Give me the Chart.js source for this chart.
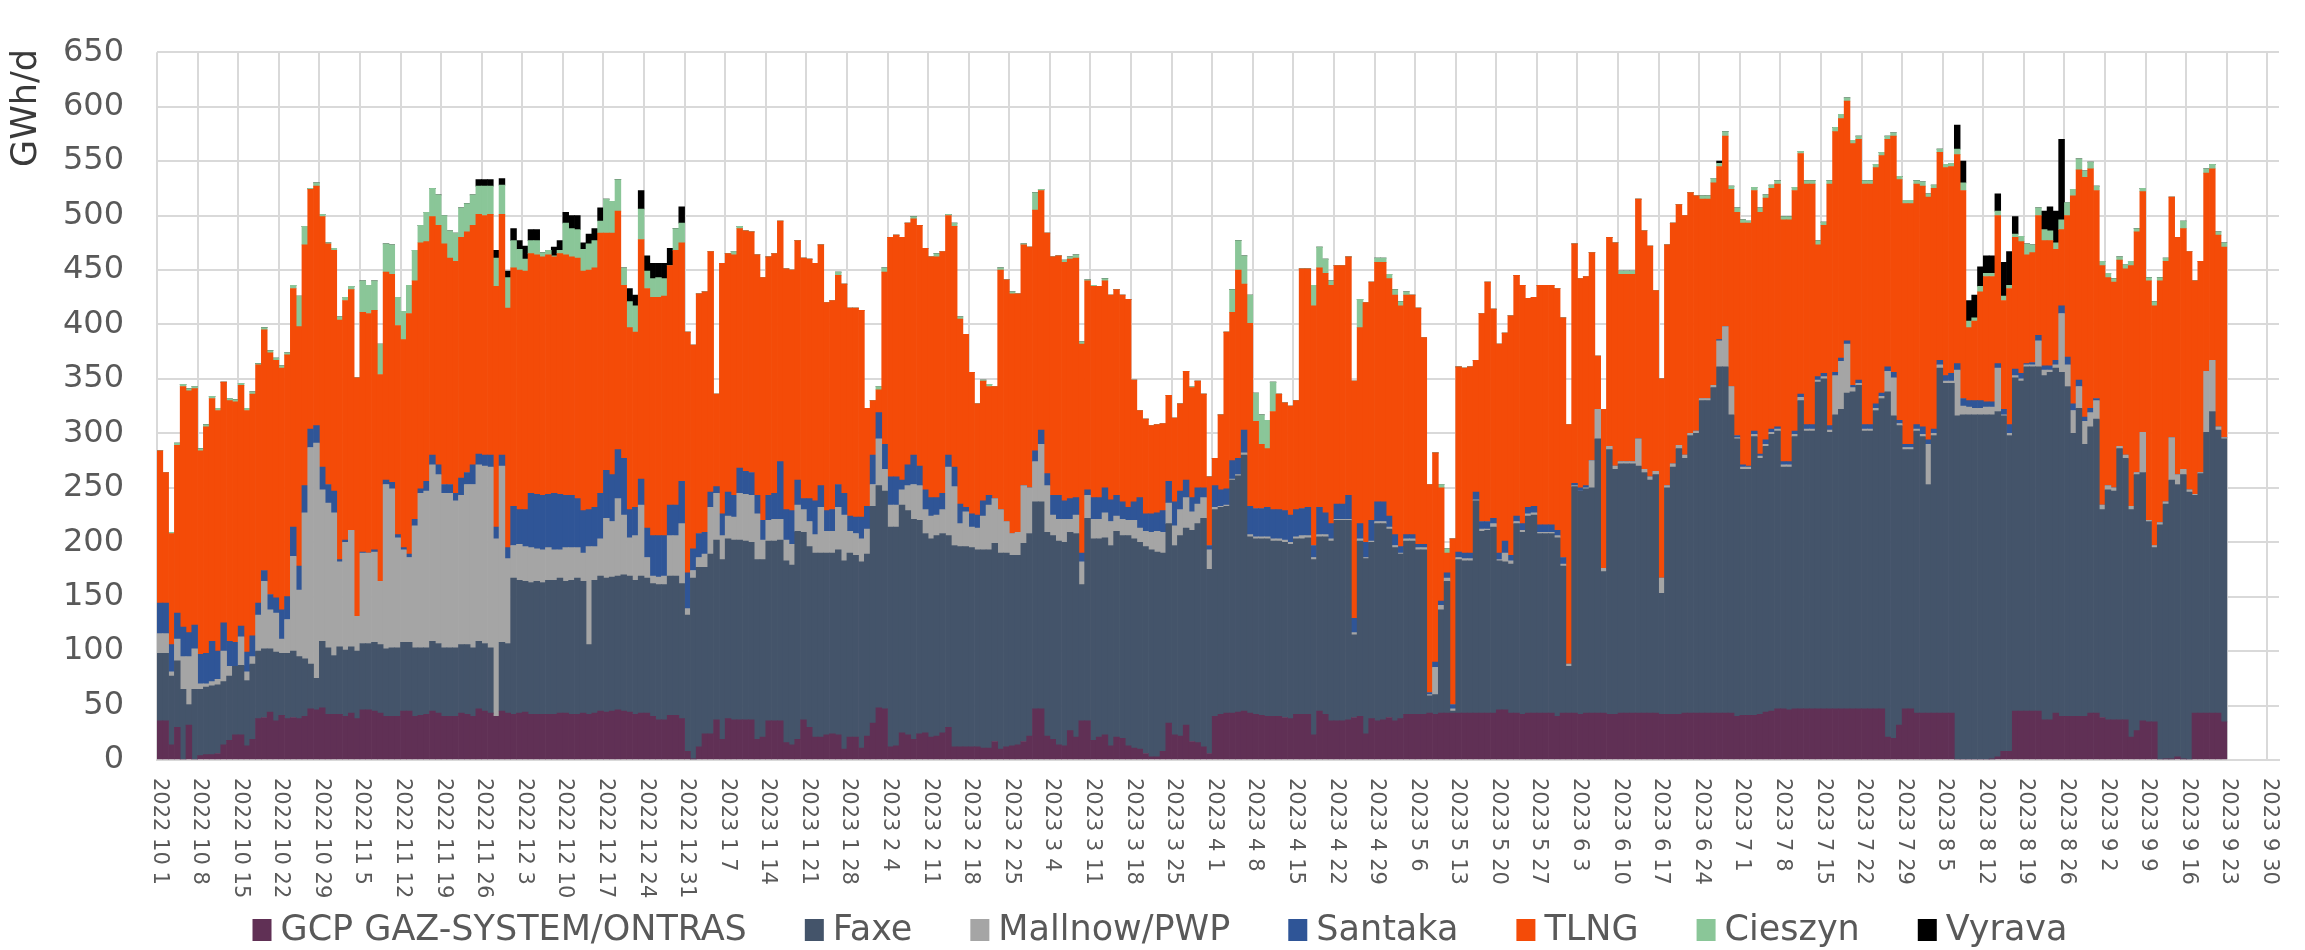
<!DOCTYPE html>
<html>
<head>
<meta charset="utf-8">
<script src="https://cdn.jsdelivr.net/npm/chart.js@4.4.1/dist/chart.umd.min.js"></script>
<style>
  html, body { margin: 0; padding: 0; background: #fff; }
</style>
</head>
<body>
<canvas id="chart" width="2305" height="950"></canvas>
<script>
// Axe des dates : un jour par barre, du 1er octobre 2022 au 1er octobre 2023
const startDate = Date.UTC(2022, 9, 1);
const dayCount = 366;
const tickEvery = 7;
const categories = [];
for (let i = 0; i < dayCount; i++) {
  const d = new Date(startDate + i * 86400000);
  categories.push(d.getUTCFullYear() + ' ' + (d.getUTCMonth() + 1) + ' ' + d.getUTCDate());
}

// Flux journaliers en GWh/d (2022-10-01 -> 2023-09-22)
const gcp = [36,36,14,30,0,32,0,4,5,5, 6,14,18,23,23,13,19,38,39,44,
  36,41,38,39,38,40,47,46,48,42, 42,42,40,43,38,46,46,45,43,40,
  40,40,45,45,40,41,42,45,43,40, 40,40,43,42,40,47,45,43,40,45,
  43,42,43,44,42,42,42,42,42,43, 43,42,42,43,42,43,45,44,45,46,
  45,44,42,43,43,40,37,37,41,41, 38,8,1,12,24,24,37,19,38,37,
  37,37,37,19,21,36,36,36,16,14, 19,37,30,21,21,23,24,23,10,21,
  21,11,22,34,48,47,12,13,25,23, 19,24,25,21,22,25,30,12,12,12,
  12,12,11,11,17,10,12,13,14,17, 22,47,47,22,19,14,13,27,21,36,
  36,18,21,23,13,21,20,13,11,10, 6,3,3,8,34,23,22,32,17,16,
  12,6,40,42,43,43,44,45,43,42, 41,40,40,40,39,38,42,42,42,23,
  45,42,36,36,36,37,39,40,24,38, 36,37,39,36,38,42,42,42,42,43,
  42,43,43,43,43,43,43,43,43,43, 43,46,46,43,43,42,43,43,43,43,
  43,40,43,43,43,42,43,43,43,43, 42,42,43,43,43,43,43,43,43,42,
  42,42,42,43,43,43,43,43,43,43, 43,43,40,41,41,41,42,44,45,47,
  47,46,47,47,47,47,47,47,47,47, 47,47,47,47,47,47,47,47,21,20,
  32,47,47,43,43,43,43,43,43,43, 0,0,0,0,0,0,1,3,8,8,
  45,45,45,45,45,37,37,43,40,40, 40,40,40,43,43,39,37,37,37,37,
  21,27,36,35,35,0,1,1,3,1, 0,43,43,43,43,43,35];

const faxe = [62,62,63,61,65,19,65,61,62,63, 63,58,59,63,64,60,69,62,63,58,
  63,57,60,61,57,53,41,29,61,61, 54,62,61,61,62,61,61,63,63,62,
  63,63,63,63,63,62,61,64,64,63, 63,63,63,64,63,62,62,60,0,63,
  64,125,122,120,121,122,121,123,123,124, 121,123,125,121,64,122,124,123,123,123,
  125,125,123,126,124,122,124,124,128,128, 124,125,166,165,153,165,165,165,165,165,
  165,164,163,165,163,165,165,166,167,165, 191,172,166,169,169,167,166,170,173,169,
  167,171,167,199,204,200,202,201,209,206, 202,196,183,182,184,183,176,185,184,184,
  183,181,182,182,182,180,178,175,174,182, 186,190,190,187,187,187,187,182,187,125,
  186,185,182,181,184,189,186,193,192,190, 190,190,188,182,183,174,184,181,194,201,
  210,169,190,190,190,214,217,235,162,161, 162,163,161,161,161,160,161,161,162,161,
  160,163,165,184,184,183,76,161,161,162, 181,180,173,159,151,159,159,151,151,16,
  18,95,121,2,141,140,140,195,167,168, 171,137,136,137,174,167,181,182,165,165,
  165,164,135,43,208,205,206,207,252,130, 243,225,229,229,229,227,221,214,219,111,
  208,227,244,234,255,257,287,287,299,318, 318,274,255,226,226,256,235,244,254,255,
  222,223,250,283,255,255,300,303,254,270, 275,290,291,297,255,255,274,285,317,296,
  275,238,238,259,254,210,255,317,303,303, 316,317,317,317,317,317,316,317,308,290,
  306,303,316,316,316,316,319,317,316,303, 260,283,250,263,270,191,211,210,249,240,
  209,235,228,184,160,216,234,256,250,261, 246,200,220,258,277,260,260];

const mallnow = [18,18,4,20,30,44,37,5,3,4, 5,28,9,0,26,8,7,33,62,36,
  36,13,31,87,61,134,199,216,139,133, 131,78,99,107,32,83,83,83,58,151,
  146,101,85,78,112,142,144,162,155,142, 142,135,137,147,150,162,163,166,163,162,
  78,30,33,32,32,30,30,30,28,26, 31,30,28,26,90,31,34,55,51,71,
  55,35,41,65,19,7,7,8,37,37, 55,6,7,9,12,43,43,22,21,21,
  43,43,43,42,18,19,20,19,19,19, 24,21,23,17,42,20,20,39,42,20,
  20,21,23,20,43,20,20,20,14,23, 32,32,22,21,19,22,63,54,21,32,
  19,20,31,41,41,40,29,20,21,53, 42,37,53,43,19,20,21,12,17,21,
  21,18,18,23,22,14,15,14,17,13, 14,16,19,19,19,18,24,28,17,18,
  19,18,2,1,1,1,1,2,2,2, 2,2,2,2,2,2,2,3,2,2,
  2,2,2,1,1,1,2,2,1,1, 2,2,2,2,1,2,2,2,2,1,
  25,4,3,2,2,2,2,1,2,1, 3,1,8,3,2,2,2,2,1,1,
  1,2,2,2,1,0,1,25,27,3, 3,3,2,2,2,25,3,3,3,14,
  2,3,3,3,2,2,2,2,2,24, 37,26,1,2,2,2,2,2,2,2,
  2,2,2,3,2,2,2,2,2,36, 44,45,4,2,2,2,2,2,19,35,
  2,2,2,2,2,37,2,3,2,2, 42,8,7,6,6,7,7,40,1,2,
  2,2,2,2,24,5,2,3,54,20, 21,20,21,13,17,4,4,3,2,3,
  3,2,37,1,2,2,2,39,9,5, 2,1,1,56,47,3,1];

const santaka = [28,28,25,24,27,22,22,27,28,37, 26,26,23,22,10,18,19,11,10,14,
  14,27,21,27,22,25,17,16,21,17, 20,2,2,0,0,1,0,2,0,4,
  6,3,2,3,6,4,9,9,9,8, 8,7,16,11,18,10,10,11,11,10,
  10,36,32,34,50,50,50,49,52,51, 48,48,45,39,34,36,42,44,43,45,
  52,26,26,24,27,37,38,37,28,28, 39,33,20,22,20,14,6,20,22,20,
  23,21,21,17,18,23,24,53,28,31, 23,10,21,31,20,19,20,21,20,14,
  15,20,21,27,24,23,26,26,9,19, 27,18,18,17,16,15,11,18,18,4,
  12,12,14,9,0,0,0,0,0,0, 0,10,13,11,18,22,17,19,16,8,
  5,20,20,23,20,19,16,12,17,28, 16,17,17,20,20,22,17,16,13,15,
  9,4,20,15,15,17,15,21,26,26, 26,27,27,27,27,25,25,25,26,11,
  25,20,14,14,14,22,13,14,14,19, 18,18,10,10,6,4,4,3,3,2,
  5,4,5,4,5,5,5,7,7,7, 5,6,11,5,5,6,6,6,7,7,
  7,5,6,0,2,3,2,0,0,0, 0,0,0,0,0,0,0,0,0,0,
  0,0,0,0,0,0,0,0,0,1, 0,0,2,2,1,3,2,4,3,2,
  3,3,3,3,4,4,3,3,4,3, 3,3,2,3,4,4,4,3,4,5,
  3,3,3,4,7,4,4,4,5,7, 6,7,6,7,7,5,5,4,5,8,
  6,5,1,2,5,4,4,4,7,7, 6,6,4,4,2,0,0,0,0,0,
  0,0,0,0,0,0,0,0,0,0, 0,0,0,0,0,0,0];

const tlng = [140,120,102,154,221,222,217,187,208,223, 221,221,221,221,221,222,222,219,221,222,
  218,222,222,219,220,221,220,220,230,221, 221,220,220,221,219,220,220,220,190,191,
  191,192,191,221,219,226,220,219,220,221, 208,213,221,221,220,220,220,221,221,221,
  220,219,220,219,220,220,219,220,217,221, 221,219,221,220,220,220,239,218,222,219,
  159,167,161,220,220,219,219,220,220,234, 219,221,187,220,221,221,85,230,219,221,
  220,221,221,221,223,219,220,221,221,221, 220,221,220,218,221,191,192,192,192,191,
  192,190,90,50,21,158,220,222,223,222, 217,221,222,221,221,222,220,221,170,159,
  130,102,110,100,103,220,222,220,219,221, 221,221,220,221,219,220,219,220,220,192,
  192,194,194,190,188,189,190,191,112,80, 87,81,81,80,79,77,80,100,101,98,
  86,63,25,69,144,136,173,134,168,80, 59,54,90,106,99,100,100,220,219,220,
  220,220,219,219,219,219,218,180,220,219, 220,220,218,220,221,220,220,217,190,191,
  192,104,18,152,170,170,171,121,191,220, 192,192,191,220,221,219,192,192,220,220,
  220,222,220,220,220,192,192,191,49,146, 192,205,172,172,172,220,219,212,166,183,
  221,221,221,220,221,216,183,183,186,159, 175,181,205,222,223,221,222,222,221,223,
  222,222,221,221,221,221,121,136,222,221, 220,220,222,221,221,221,217,218,209,217,
  221,221,221,221,221,223,221,191,191,190, 192,191,67,73,100,115,115,136,100,125,
  121,121,100,101,110,115,115,102,70,130, 191,193,220,220,191,220,191,189,171,171,
  221,221,221,220,220,222,221,221,218,221, 219,196,194,182,176,176,175];

const cieszyn = [0,0,1,2,2,2,2,2,2,2, 2,0,2,2,2,2,2,1,2,2,
  2,2,2,3,28,17,1,3,2,1, 2,3,3,3,0,29,26,27,28,26,
  27,26,26,26,28,16,27,26,28,26, 25,26,27,26,28,26,27,26,26,27,
  28,25,19,11,12,13,4,4,1,3, 29,26,26,20,24,25,11,31,29,29,
  16,24,24,28,16,17,18,16,0,20, 18,0,0,0,0,0,0,0,0,3,
  2,0,0,0,0,0,0,0,0,0, 0,0,0,0,0,0,0,3,0,0,
  0,0,0,0,3,4,0,0,0,0, 2,0,0,0,3,0,1,3,2,0,
  0,0,1,2,0,2,0,2,0,1, 0,16,1,0,0,0,2,2,3,2,
  1,1,0,2,0,0,0,0,0,0, 0,0,0,0,0,0,0,0,1,0,
  0,0,0,0,0,21,27,26,26,26, 27,26,27,0,0,0,0,0,0,19,
  19,13,4,0,0,0,0,26,0,0, 4,4,4,5,4,3,0,0,0,0,
  0,3,4,0,0,0,0,0,0,0, 0,0,0,0,0,0,0,0,0,0,
  0,0,0,0,0,0,0,0,0,0, 0,0,3,3,3,0,0,0,0,0,
  0,0,0,0,0,0,3,3,4,3, 4,3,4,3,2,3,4,3,3,3,
  3,3,3,2,3,3,4,3,3,4, 4,3,3,3,3,3,3,3,3,3,
  3,3,3,3,4,3,3,3,3,3, 5,7,6,3,5,3,3,4,4,3,
  3,5,10,7,7,10,9,6,9,12, 6,10,6,6,4,4,4,3,3,4,
  4,3,3,3,4,3,3,0,0,7, 0,0,0,4,4,3,4];

const vyrava = [0,0,0,0,0,0,0,0,0,0, 0,0,0,0,0,0,0,0,0,0,
  0,0,0,0,0,0,0,0,0,0, 0,0,0,0,0,0,0,0,0,0,
  0,0,0,0,0,0,0,0,0,0, 0,0,0,0,0,6,6,6,7,6,
  6,11,8,12,10,10,0,0,8,9, 10,12,13,6,9,11,12,0,0,0,
  0,12,10,17,14,14,13,14,16,0, 15,0,0,0,0,0,0,0,0,0,
  0,0,0,0,0,0,0,0,0,0, 0,0,0,0,0,0,0,0,0,0,
  0,0,0,0,0,0,0,0,0,0, 0,0,0,0,0,0,0,0,0,0,
  0,0,0,0,0,0,0,0,0,0, 0,0,0,0,0,0,0,0,0,0,
  0,0,0,0,0,0,0,0,0,0, 0,0,0,0,0,0,0,0,0,0,
  0,0,0,0,0,0,0,0,0,0, 0,0,0,0,0,0,0,0,0,0,
  0,0,0,0,0,0,0,0,0,0, 0,0,0,0,0,0,0,0,0,0,
  0,0,0,0,0,0,0,0,0,0, 0,0,0,0,0,0,0,0,0,0,
  0,0,0,0,0,0,0,0,0,0, 0,0,0,0,0,0,0,0,0,0,
  0,0,0,0,0,0,0,0,0,2, 0,0,0,0,0,0,0,0,0,0,
  0,0,0,0,0,0,0,0,0,0, 0,0,0,0,0,0,0,0,0,0,
  0,0,0,0,0,0,0,0,0,0, 22,20,19,21,18,16,16,16,31,31,
  16,0,0,0,0,17,22,29,74,0, 0,0,0,0,0,0,0,0,0,0,
  0,0,0,0,0,0,0,0,0,0, 0,0,0,0,0,0,0];

const textGrey = '#595959';

// Etiquettes de l'axe X (verticales, lues de haut en bas), titre Y et légende
const extras = {
  id: 'extras',
  afterDraw(chart) {
    const ctx = chart.ctx;
    const xs = chart.scales.x;
    const area = chart.chartArea;
    const half = (xs.getPixelForValue(1) - xs.getPixelForValue(0)) / 2;
    ctx.save();
    ctx.fillStyle = textGrey;
    ctx.font = '21px "DejaVu Sans"';
    ctx.textAlign = 'left';
    ctx.textBaseline = 'middle';
    for (let i = 0; i < categories.length; i += tickEvery) {
      ctx.save();
      ctx.translate(xs.getPixelForValue(i) - half + 2, area.bottom + 18);
      ctx.rotate(Math.PI / 2);
      ctx.fillText(categories[i], 0, 0);
      ctx.restore();
    }

    // titre de l'axe Y
    ctx.save();
    ctx.fillStyle = '#3a3a3a';
    ctx.font = '35px "DejaVu Sans"';
    ctx.textAlign = 'center';
    ctx.translate(27, 108);
    ctx.rotate(-Math.PI / 2);
    ctx.fillText('GWh/d', 0, 0);
    ctx.restore();

    // légende
    ctx.font = '35px "DejaVu Sans"';
    const items = chart.data.datasets.map(ds => ({
      text: ds.label, color: ds.backgroundColor,
      w: 19 + 9 + ctx.measureText(ds.label).width
    }));
    const gap = 58;
    const total = items.reduce((s, it) => s + it.w, 0) + gap * (items.length - 1);
    let lx = 1160 - total / 2;
    items.forEach(it => {
      ctx.fillStyle = it.color;
      ctx.fillRect(lx, 919, 19, 22);
      ctx.fillStyle = textGrey;
      ctx.fillText(it.text, lx + 28, 931);
      lx += it.w + gap;
    });
    ctx.restore();
  }
};

function serie(label, data, color) {
  return { label: label, data: data, backgroundColor: color, borderWidth: 0,
           barPercentage: 1, categoryPercentage: 1 };
}

new Chart(document.getElementById('chart'), {
  type: 'bar',
  data: {
    labels: categories,
    datasets: [
      serie('GCP GAZ-SYSTEM/ONTRAS', gcp, '#603055'),
      serie('Faxe', faxe, '#44546a'),
      serie('Mallnow/PWP', mallnow, '#a5a5a5'),
      serie('Santaka', santaka, '#2f5597'),
      serie('TLNG', tlng, '#f44b08'),
      serie('Cieszyn', cieszyn, '#8ac698'),
      serie('Vyrava', vyrava, '#000000')
    ]
  },
  options: {
    responsive: false,
    animation: false,
    layout: { padding: { top: 25, right: 26, left: 0, bottom: 0 } },
    plugins: { legend: { display: false }, tooltip: { enabled: false } },
    scales: {
      x: {
        stacked: true,
        offset: true,
        grid: {
          offset: true, drawTicks: false, lineWidth: 2,
          color: c => (c.index % tickEvery === 0 ? '#d9d9d9' : 'rgba(0,0,0,0)')
        },
        border: { display: true, color: '#d9d9d9', width: 2 },
        ticks: { display: false, autoSkip: false },
        afterFit: s => { s.height = 190; }
      },
      y: {
        stacked: true,
        min: 0,
        max: 650,
        ticks: { stepSize: 50, color: textGrey, padding: 33,
                 font: { family: 'DejaVu Sans', size: 32 } },
        grid: { color: '#d9d9d9', lineWidth: 2, drawTicks: false },
        border: { display: false },
        afterFit: s => { s.width = 157; }
      }
    }
  },
  plugins: [extras]
});
</script>
</body>
</html>
